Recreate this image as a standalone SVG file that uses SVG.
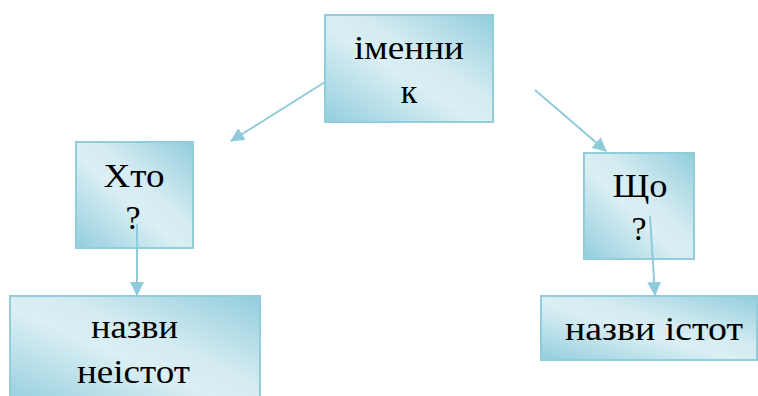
<svg xmlns="http://www.w3.org/2000/svg" width="758" height="396" viewBox="0 0 758 396">
<style>
.box{fill:url(#g);stroke:#92cddc;stroke-width:2}
.t{font-family:'Liberation Serif','Times New Roman',serif;font-size:34px;fill:#000;text-anchor:middle}
.c{stroke:#8fcbdb;stroke-width:2;fill:none;marker-end:url(#a)}
</style>
<defs>
<linearGradient id="g" x1="0" y1="1" x2="1" y2="0">
<stop offset="0" stop-color="#93cedd"/>
<stop offset="0.45" stop-color="#dbeff4"/>
<stop offset="0.6" stop-color="#d3ebf1"/>
<stop offset="1" stop-color="#92cddc"/>
</linearGradient>
<marker id="a" markerWidth="14" markerHeight="14" refX="13" refY="7" orient="auto" markerUnits="userSpaceOnUse">
<path d="M0,0 L14,7 L0,14 Z" fill="#8fcbdb"/>
</marker>
</defs>
<g id="n1"><rect class="box" x="325" y="15" width="168" height="107"/><text class="t" x="409" y="59" textLength="110" lengthAdjust="spacingAndGlyphs">іменни</text><text class="t" x="409" y="103">к</text></g>
<g id="n2"><rect class="box" x="76" y="142" width="117" height="106"/><text class="t" x="134" y="187" textLength="61" lengthAdjust="spacingAndGlyphs">Хто</text><text class="t" x="133" y="229">?</text></g>
<g id="n3"><rect class="box" x="584" y="153" width="110" height="106"/><text class="t" x="640" y="197" textLength="55" lengthAdjust="spacingAndGlyphs">Що</text><text class="t" x="639" y="240">?</text></g>
<g id="n4"><rect class="box" x="10" y="296" width="250" height="110"/><text class="t" x="134.5" y="338" textLength="87" lengthAdjust="spacingAndGlyphs">назви</text><text class="t" x="133.5" y="383" textLength="113" lengthAdjust="spacingAndGlyphs">неістот</text></g>
<g id="n5"><rect class="box" x="541" y="296" width="216" height="64"/><text class="t" x="654" y="340" textLength="178" lengthAdjust="spacingAndGlyphs">назви істот</text></g>
<g id="connectors">
<line class="c" x1="325" y1="82" x2="231" y2="141"/>
<line class="c" x1="535" y1="90" x2="606" y2="151"/>
<line class="c" x1="137" y1="224" x2="137" y2="295"/>
<line class="c" x1="650" y1="216" x2="655" y2="295"/>
</g>
</svg>
